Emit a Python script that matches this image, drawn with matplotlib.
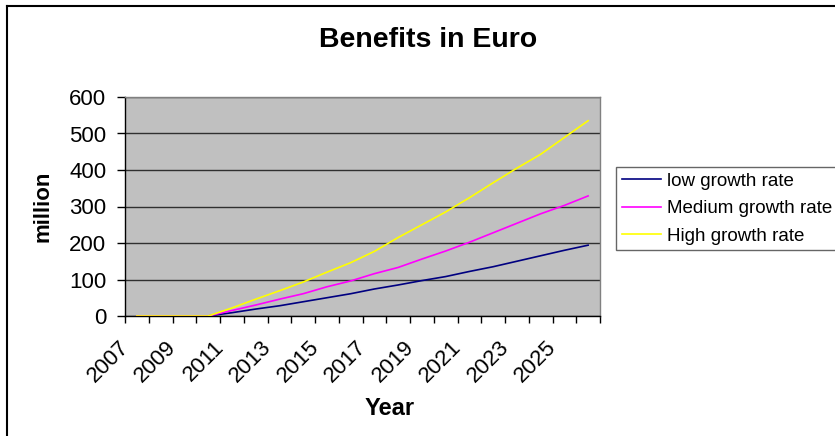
import matplotlib
matplotlib.use("Agg")
import matplotlib.pyplot as plt
from matplotlib.lines import Line2D
from matplotlib.transforms import ScaledTranslation

plt.rcParams['font.family'] = ['Liberation Sans', 'DejaVu Sans']

years = list(range(2007, 2027))
low = [0, 0, 0, 0, 9, 19, 28, 39, 50, 61, 74, 85, 97, 108, 122, 135, 150, 165, 180, 194]
medium = [0, 0, 0, 0, 15, 30, 46, 61, 80, 96, 116, 133, 156, 178, 202, 228, 254, 280, 303, 329]
high = [0, 0, 0, 0, 22, 46, 69, 93, 120, 146, 177, 215, 250, 285, 324, 365, 405, 443, 489, 535]
series_names = ["low growth rate", "Medium growth rate", "High growth rate"]
yticks = [0, 100, 200, 300, 400, 500, 600]
xlabels = [str(y) for y in years[::2]]

W, H = 835, 436
DPI = 100
fig = plt.figure(figsize=(W / DPI, H / DPI), dpi=DPI)
ax = fig.add_axes([125 / W, 1 - 316 / H, 475 / W, 219 / H])
ax.set_facecolor('#C0C0C0')

x = list(range(len(years)))
colors = ['#000080', '#FF00FF', '#FFFF00']
for vals, c, name in zip([low, medium, high], colors, series_names):
    ax.plot(x, vals, color=c, lw=1.2, label=name, zorder=3)

ax.set_xlim(-0.5, len(years) - 0.5)
ax.set_ylim(0, 600)
ax.set_yticks(yticks)
ax.set_yticklabels([str(v) for v in yticks], fontsize=16)
ax.yaxis.grid(True, color='#303030', lw=1.0)
ax.set_axisbelow(True)

# major ticks: labels at category centers, no marks
ax.set_xticks(x[::2])
ax.set_xticklabels(xlabels, rotation=45, ha='right', va='center',
                   rotation_mode='anchor', fontsize=16)
ax.tick_params(axis='x', which='major', length=0, pad=0)
off = ScaledTranslation(-11 / DPI, -28 / DPI, fig.dpi_scale_trans)
for lab in ax.get_xticklabels():
    lab.set_transform(lab.get_transform() + off)
# minor ticks at category boundaries
ax.set_xticks([i - 0.5 for i in range(len(years) + 1)], minor=True)
ax.tick_params(axis='x', which='minor', length=5, width=1, color='black', direction='out')
ax.tick_params(axis='y', length=5.5, width=1, direction='out', pad=8)

for s in ['top', 'right']:
    ax.spines[s].set_color('#808080')
    ax.spines[s].set_linewidth(1)
for s in ['left', 'bottom']:
    ax.spines[s].set_color('black')
    ax.spines[s].set_linewidth(1)

fig.text(428 / W, 1 - 40 / H, "Benefits in Euro", ha='center', va='center',
         fontsize=20.5, fontweight='bold')
fig.text(390 / W, 1 - 408 / H, "Year", ha='center', va='center',
         fontsize=17, fontweight='bold')
fig.text(43 / W, 1 - 206 / H, "million", ha='center', va='center',
         fontsize=16, fontweight='bold', rotation=90)

leg = fig.legend(loc='upper left', bbox_to_anchor=(616 / W, 1 - 167 / H),
                 frameon=True, fancybox=False, fontsize=13.5, handlelength=2.1,
                 handletextpad=0.3, borderpad=0.3, labelspacing=0.55,
                 borderaxespad=0)
leg.get_frame().set_edgecolor('#404040')
leg.get_frame().set_linewidth(1)

# outer chart border (top and left visible)
fig.add_artist(Line2D([7 / W, 1.0], [1 - 6 / H, 1 - 6 / H], color='black', lw=1.5))
fig.add_artist(Line2D([7 / W, 7 / W], [0, 1 - 6 / H], color='black', lw=1.5))

fig.savefig('out.png', dpi=DPI)
